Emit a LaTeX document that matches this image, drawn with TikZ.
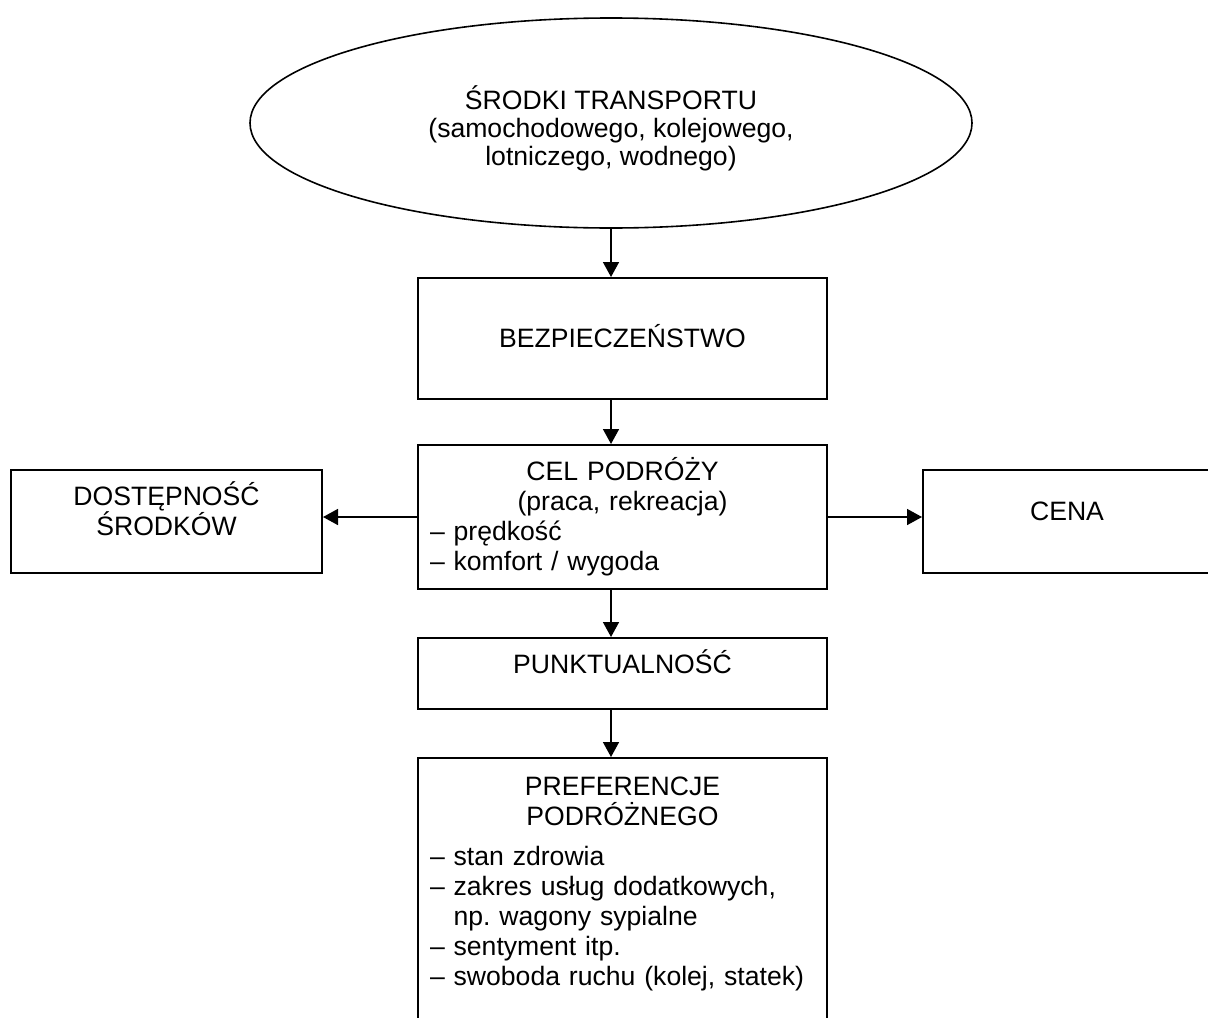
\documentclass[tikz,border=0pt]{standalone}
\usepackage{fontspec}
\setmainfont{Liberation Sans}
\usetikzlibrary{shapes.geometric,arrows.meta}

\tikzset{
  blok/.style={draw,line width=1pt,anchor=north,inner xsep=6pt,inner ysep=0pt,
    font=\fontsize{13.3}{15}\selectfont},
  elipsa/.style={draw,ellipse,line width=0.8pt,minimum width=361pt,minimum height=105pt,
    align=center,inner sep=0pt,font=\fontsize{13.3}{14}\selectfont},
  strzalka/.style={line width=0.8pt,-{Triangle[length=7.5pt,width=8pt]}}
}

\begin{document}
\begin{tikzpicture}[x=0.5pt,y=-0.5pt]
\path[use as bounding box,fill=white] (0,0) rectangle (1208,1017);

\node [elipsa] (srodki) at (611,123)
{\rule{0pt}{17.5pt}ŚRODKI TRANSPORTU\\(samochodowego, kolejowego,\\lotniczego, wodnego)};

\node [blok,align=center,text width=192.5pt,text height=34.5pt,text depth=26pt] (bezp) at (622.5,277)
{BEZPIECZEŃSTWO};

\node [blok,text width=192.5pt,text height=17.5pt,text depth=54.5pt] (cel) at (622.5,444)
{{\centering CEL PODRÓŻY\\(praca, rekreacja)\par}
– prędkość\\– komfort / wygoda};

\node [blok,align=center,text width=143.5pt,text height=17.5pt,text depth=34pt] (dost) at (166.5,469)
{DOSTĘPNOŚĆ\\ŚRODKÓW};

\node [blok,align=center,text width=132pt,text height=25pt,text depth=26.5pt] (cena) at (1067,469)
{CENA};

\node [blok,align=center,text width=192.5pt,text height=17.5pt,text depth=18pt] (punkt) at (622.5,637)
{PUNKTUALNOŚĆ};

\node [blok,text width=192.5pt,text height=18.5pt,text depth=123pt] (pref) at (622.5,757)
{{\centering PREFERENCJE\\PODRÓŻNEGO\par}\vspace{5pt}
– stan zdrowia\\
– zakres usług dodatkowych,\\
\phantom{– }np.\ wagony sypialne\\
– sentyment itp.\\
– swoboda ruchu (kolej, statek)};

\draw[strzalka] (srodki.south) -- (srodki.south |- bezp.north);
\draw[strzalka] (bezp.south -| srodki.south) -- (cel.north -| srodki.south);
\draw[strzalka] (cel.south -| srodki.south) -- (punkt.north -| srodki.south);
\draw[strzalka] (punkt.south -| srodki.south) -- (pref.north -| srodki.south);
\draw[strzalka] (cel.west) -- (cel.west -| dost.east);
\draw[strzalka] (cel.east) -- (cel.east -| cena.west);
\end{tikzpicture}
\end{document}
